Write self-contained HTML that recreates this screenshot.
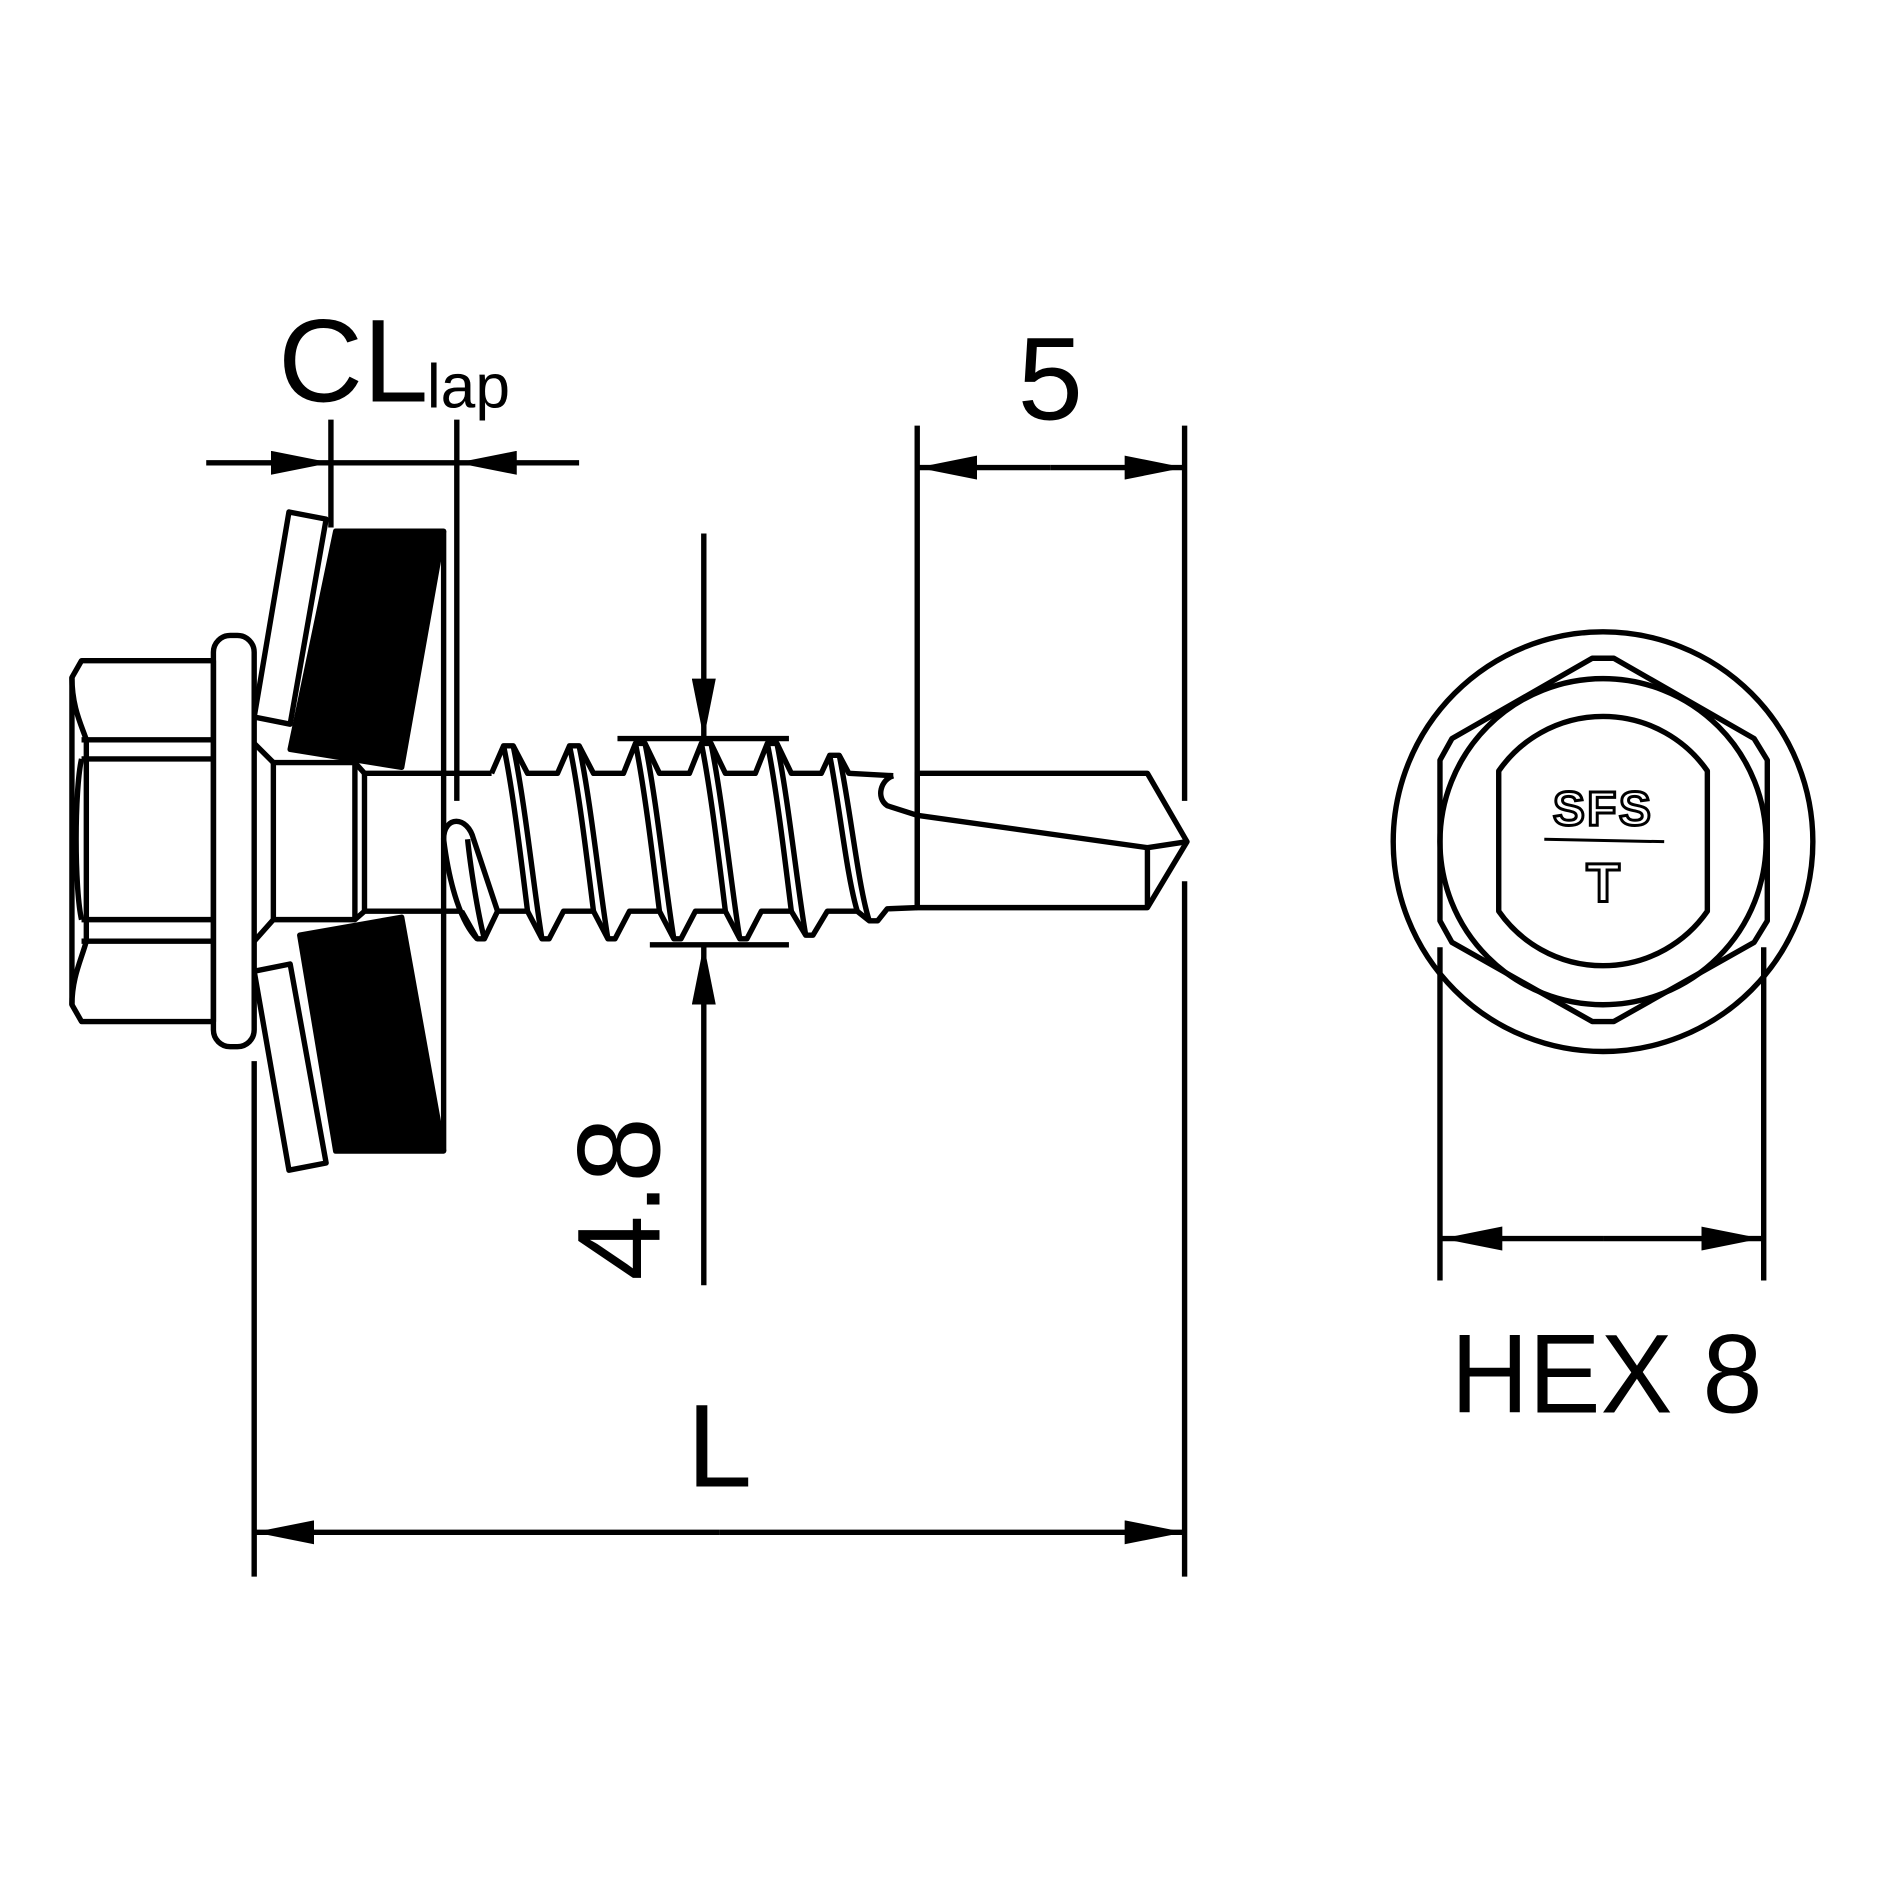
<!DOCTYPE html>
<html><head><style>html,body{margin:0;padding:0;background:#fff}svg{display:block}</style></head>
<body>
<svg width="1880" height="1880" viewBox="0 0 1568 1568" xmlns="http://www.w3.org/2000/svg" font-family="Liberation Sans, sans-serif">
<defs>
<marker id="a" viewBox="0 0 50 20" refX="50" refY="10" markerWidth="50" markerHeight="20" markerUnits="userSpaceOnUse" orient="auto"><path d="M0,0 L50,10 L0,20 Z" fill="#000"/></marker>
</defs>
<g stroke="#000" stroke-width="4.5" fill="none" stroke-linejoin="round">
<line x1="276" y1="350" x2="276" y2="440"/>
<line x1="381" y1="350" x2="381" y2="668"/>
<line x1="172" y1="386" x2="276" y2="386" marker-end="url(#a)"/>
<line x1="483" y1="386" x2="381" y2="386" marker-end="url(#a)"/>
<line x1="276" y1="386" x2="381" y2="386"/>
<line x1="765" y1="355" x2="765" y2="655"/>
<line x1="988" y1="355" x2="988" y2="668"/>
<line x1="988" y1="735" x2="988" y2="1315"/>
<line x1="876" y1="390" x2="765" y2="390" marker-end="url(#a)"/>
<line x1="876" y1="390" x2="988" y2="390" marker-end="url(#a)"/>
<line x1="212" y1="885" x2="212" y2="1315"/>
<line x1="600" y1="1278" x2="212" y2="1278" marker-end="url(#a)"/>
<line x1="600" y1="1278" x2="988" y2="1278" marker-end="url(#a)"/>
<line x1="587" y1="445" x2="587" y2="616" marker-end="url(#a)"/>
<line x1="587" y1="1072" x2="587" y2="788" marker-end="url(#a)"/>
<line x1="515" y1="616" x2="658" y2="616"/>
<line x1="542" y1="788" x2="658" y2="788"/>
<path d="M68,551 L178,551 L178,852 L68,852 L60,838 L60,565 Z"/>
<path d="M60,565 C60,590 68,605 72,617 L72,785 C68,800 60,815 60,838"/>
<line x1="68" y1="617" x2="178" y2="617"/><line x1="68" y1="633" x2="178" y2="633"/>
<line x1="68" y1="767" x2="178" y2="767"/><line x1="68" y1="785" x2="178" y2="785"/>
<path d="M68,633 C62,660 62,740 68,767"/>
<rect x="178" y="530" width="34" height="343" rx="14"/>
<path d="M241,427 L272,433 L242,604 L212,598 Z"/>
<path d="M212,810 L242,804 L272,970 L241,976 Z"/>
<path d="M280,443 L370,443 L335,640 L242,625 Z" fill="#000"/>
<path d="M250,780 L335,765 L370,960 L280,960 Z" fill="#000"/>
<line x1="370" y1="443" x2="370" y2="960"/>
<path d="M212,620 L228,636 M212,785 L228,767"/>
<rect x="228" y="636" width="68" height="131"/>
<path d="M296,636 L304,645 L410,645 M296,767 L304,760 L385,760"/>
<line x1="304" y1="645" x2="304" y2="760"/>
<path d="M410,645 L420,622 L428,622 L440,645 L465,645 L475,622 L483,622 L495,645 L520,645 L530,620 L538,620 L550,645 L575,645 L585,620 L593,620 L605,645 L630,645 L640,620 L648,620 L660,645 L685,645 L692,630 L700,630 L708,645 L745,647"/>
<path d="M385,760 L398,783 L404,783 L415,760 L440,760 L452,783 L458,783 L470,760 L495,760 L507,783 L513,783 L525,760 L550,760 L562,783 L568,783 L580,760 L605,760 L617,783 L623,783 L635,760 L660,760 L672,780 L678,780 L690,760 L715,760 L725,768 L732,768 L740,758 L765,757"/>
<path d="M370,700 C370,680 390,680 395,700 L415,760 M420,622 C428,660 435,720 440,760 M428,622 C438,670 445,740 452,783 M475,622 C483,660 490,720 495,760 M483,622 C493,670 500,740 507,783 M530,620 C538,660 545,720 550,760 M538,620 C548,670 555,740 562,783 M585,620 C593,660 600,720 605,760 M593,620 C603,670 610,740 617,783 M640,620 C648,660 655,720 660,760 M648,620 C658,670 665,740 672,780 M692,630 C700,670 706,730 715,760 M700,630 C710,680 716,740 725,768"/>
<path d="M370,700 C375,740 385,770 398,783 M404,783 C398,760 392,720 390,700"/>
<path d="M765,645 L957,645 L990,702 L957,757 L765,757 Z"/>
<path d="M957,707 L990,702 M957,707 L957,757"/>
<path d="M765,680 L957,707"/>
<path d="M745,647 C735,650 730,665 740,672 L765,680"/>
<line x1="765" y1="645" x2="765" y2="757"/>
<circle cx="1337" cy="702" r="175"/>
<circle cx="1337" cy="702" r="136"/>
<path d="M1328,549 L1346,549 L1463,616 L1474,634 L1474,768 L1463,786 L1346,852 L1328,852 L1211,786 L1201,768 L1201,634 L1211,616 Z"/>
<path d="M1250,643 A106,106 0 0 1 1424,643 L1424,760 A106,106 0 0 1 1250,760 Z"/>
<line x1="1201" y1="790" x2="1201" y2="1068"/>
<line x1="1471" y1="790" x2="1471" y2="1068"/>
<line x1="1337" y1="1033" x2="1203" y2="1033" marker-end="url(#a)"/>
<line x1="1337" y1="1033" x2="1469" y2="1033" marker-end="url(#a)"/>
</g>
<g fill="#000">
<text x="232" y="335" font-size="98">CL</text>
<text x="356" y="340" font-size="52">lap</text>
<text x="876" y="350" font-size="98" text-anchor="middle">5</text>
<text x="600" y="1240" font-size="98" text-anchor="middle">L</text>
<text transform="translate(550,1000) rotate(-90)" font-size="98" text-anchor="middle">4.8</text>
<text x="1340" y="1178" font-size="94" text-anchor="middle" textLength="260" lengthAdjust="spacingAndGlyphs">HEX 8</text>
</g>
<g fill="none" stroke="#000" stroke-width="2.5">
<text x="1337" y="688" font-size="40" font-weight="bold" text-anchor="middle" letter-spacing="2">SFS</text>
<line x1="1288" y1="700" x2="1388" y2="702"/>
<text x="1337" y="752" font-size="46" font-weight="bold" text-anchor="middle">T</text>
</g>
</svg>
</body></html>
